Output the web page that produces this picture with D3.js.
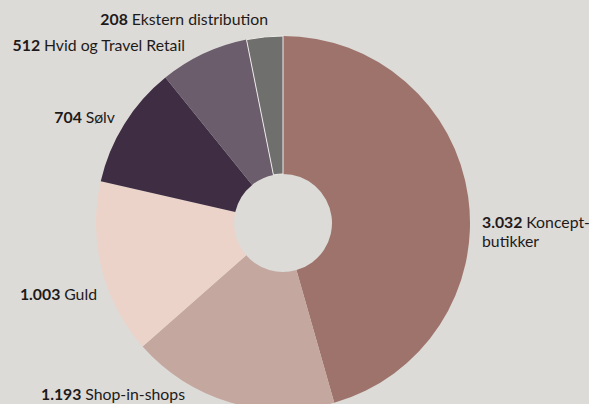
<!DOCTYPE html>
<html>
<head>
<meta charset="utf-8">
<script src="https://cdn.jsdelivr.net/npm/d3@7"></script>
<style>
  body { margin: 0; background: #dcdbd7; }
  svg { display: block; }
  text { font-family: Lato, "Noto Sans", sans-serif; font-size: 15.8px; fill: #1e1a1a; }
  .num { font-weight: bold; }
</style>
</head>
<body>
<div id="chart"></div>
<script>
(function piechart() {

  var categories = ["Koncept-butikker", "Shop-in-shops", "Guld", "Sølv", "Hvid og Travel Retail", "Ekstern distribution"];
  var values = [3032, 1193, 1003, 704, 512, 208];
  var valueLabels = ["3.032", "1.193", "1.003", "704", "512", "208"];
  var colors = ["#9e736b", "#c4a89f", "#ecd3c9", "#3f2e43", "#6b5d6c", "#6f6f6d"];

  // label placement: [x, y, anchor, lines]
  var labelLayout = [
    [482, 228, "start", ["Koncept-", "butikker"]],
    [185, 400, "end", ["Shop-in-shops"]],
    [97, 300, "end", ["Guld"]],
    [115, 123, "end", ["Sølv"]],
    [185, 51, "end", ["Hvid og Travel Retail"]],
    [268, 25, "end", ["Ekstern distribution"]]
  ];

  var width = 589,
    height = 404,
    cx = 283,
    cy = 223,
    outer = 187,
    inner = 49;

  var data = categories.map(function(c, i) {
    return { name: c, value: values[i], label: valueLabels[i], color: colors[i] };
  });

  var svg = d3.select("#chart").append("svg")
    .attr("width", width)
    .attr("height", height);

  var g = svg.append("g")
    .attr("transform", "translate(" + cx + "," + cy + ")");

  var pie = d3.pie()
    .sort(null)
    .value(function(d) { return d.value; });

  var arc = d3.arc()
    .innerRadius(inner)
    .outerRadius(outer);

  g.selectAll("path")
    .data(pie(data))
    .enter()
    .append("path")
    .attr("d", arc)
    .attr("fill", function(d) { return d.data.color; })
    .attr("stroke", function(d, i) { return i == 5 ? "#ecebe8" : "none"; })
    .attr("stroke-width", 1);

  data.forEach(function(d, i) {
    var lay = labelLayout[i];
    var t = svg.append("text")
      .attr("x", lay[0])
      .attr("y", lay[1])
      .attr("text-anchor", lay[2]);
    t.append("tspan").attr("class", "num").text(d.label + " ");
    t.append("tspan").text(lay[3][0]);
    for (var k = 1; k < lay[3].length; k++) {
      svg.append("text")
        .attr("x", lay[0])
        .attr("y", lay[1] + 19 * k)
        .attr("text-anchor", lay[2])
        .text(lay[3][k]);
    }
  });
})();
</script>
</body>
</html>
